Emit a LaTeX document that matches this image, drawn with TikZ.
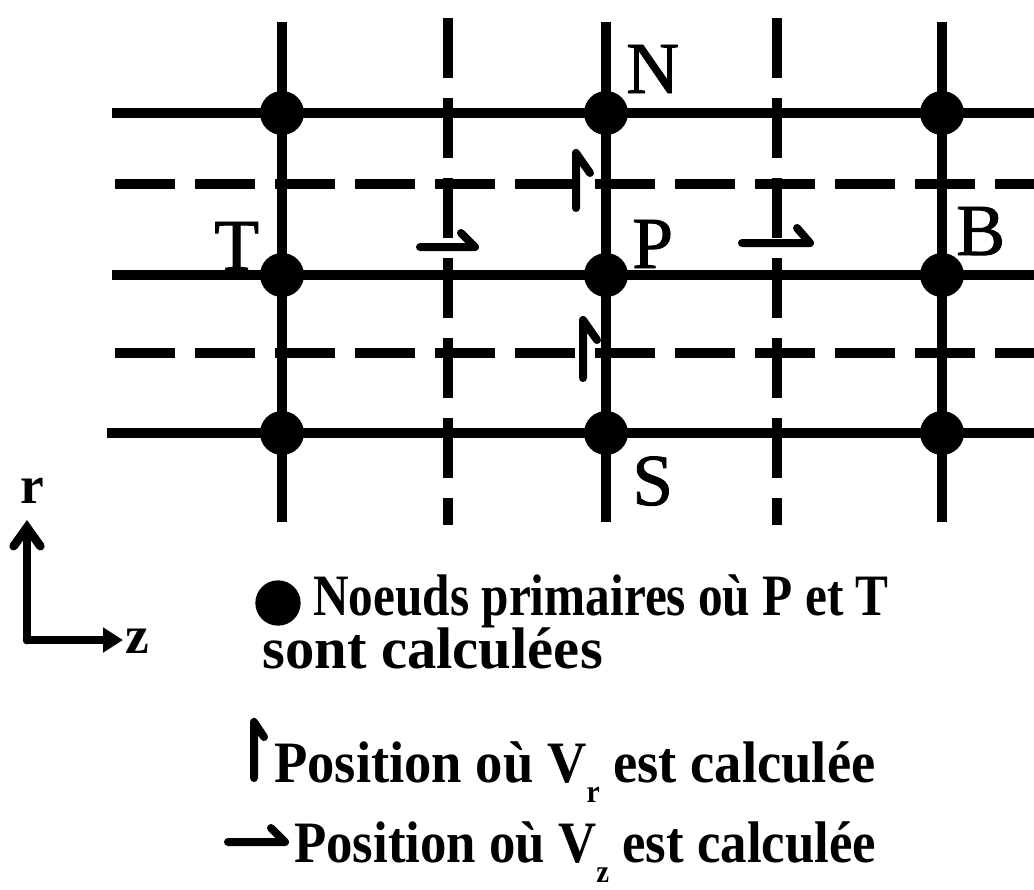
\documentclass[tikz,border=0pt]{standalone}
\usepackage{fontspec}
\usepackage{graphicx}
\setmainfont{Liberation Serif}
\newfontfamily\legfont{Liberation Serif Bold}
\newfontfamily\lblfont[FakeBold=1.2]{Liberation Serif}
\usetikzlibrary{arrows.meta}
\newcommand{\subsc}[1]{\raisebox{-15pt}{\fontsize{24}{24}\selectfont #1}}
\newcommand{\xs}[2]{\scalebox{#1}[1]{#2}}
\begin{document}
\begin{tikzpicture}[x=0.75pt,y=-0.75pt,
  grid/.style={line width=7pt},
  dgrid/.style={line width=7pt, dash pattern=on 45pt off 15pt},
  dot/.style={circle, fill=black, minimum size=33pt, inner sep=0pt},
  lbl/.style={inner sep=0pt, anchor=base west, font=\lblfont\fontsize{55}{60}\selectfont},
  leg/.style={inner sep=0pt, anchor=base west, font=\legfont\fontsize{44}{50}\selectfont},
  axlbl/.style={inner sep=0pt, anchor=base, font=\bfseries\fontsize{40}{40}\selectfont},
  vel/.style={line width=6pt, line cap=round, line join=round},
  axis/.style={line width=6.5pt, line cap=round}]
\useasboundingbox (0,0) rectangle (1034,889);
% solid grid lines
\draw[grid] (282,22) -- (282,522);
\draw[grid] (606,22) -- (606,522);
\draw[grid] (942,22) -- (942,522);
\draw[grid] (112,113) -- (1034,113);
\draw[grid] (112,275) -- (1034,275);
\draw[grid] (107,433) -- (1034,433);
% dashed grid lines
\draw[dgrid] (448,18) -- (448,525);
\draw[dgrid] (777,18) -- (777,525);
\draw[dgrid] (115,184) -- (1034,184);
\draw[dgrid] (115,353) -- (1034,353);
% primary nodes
\foreach \c/\x in {a/282,b/606,c/942}{
  \foreach \r/\y in {1/113,2/275,3/433}{
    \node[dot] (n\c\r) at (\x,\y) {};
  }
}
% labels
\node[lbl] (N) at (626,93) {N};
\node[lbl] (T) at (214,270) {T};
\node[lbl] (P) at (632,268) {P};
\node[lbl] (B) at (956,255) {B};
\node[lbl] (S) at (632,505) {S};
% velocity positions
\draw[vel] (576,208) -- (576,153) -- (590,173);
\draw[vel] (583,378) -- (583,320) -- (597,340);
\draw[vel] (420,247) -- (475,247) -- (461,233);
\draw[vel] (742,243) -- (810,243) -- (797,228);
% axes
\coordinate (O) at (27,640);
\coordinate (rtip) at (27,520);
\coordinate (ztip) at (123,640);
\draw[axis, -{Straight Barb[length=14pt,width=20pt,line cap=round]}] (O) -- (rtip);
\draw[axis, -{Triangle[length=15pt,width=18pt]}] (O) -- (ztip);
\node[axlbl] (rl) at (32,503) {r};
\node[axlbl] (zl) at (137,653) {z};
% legend
\node[dot, minimum size=34pt] (ld) at (278,603) {};
\node[leg] (l1) at (313,615) {\xs{0.84}{Noeuds primaires où P et T}};
\node[leg] (l2) at (262,668) {\xs{1.0}{sont calculées}};
\draw[vel] (254,778) -- (254,722) -- (264,737);
\node[leg] (l3) at (274,782) {\xs{0.93}{Position où V\subsc{r} est calculée}};
\draw[vel] (228,842) -- (285,842) -- (271,828);
\node[leg] (l4) at (294,862) {\xs{0.9}{Position où V\subsc{z} est calculée}};
\end{tikzpicture}
\end{document}
